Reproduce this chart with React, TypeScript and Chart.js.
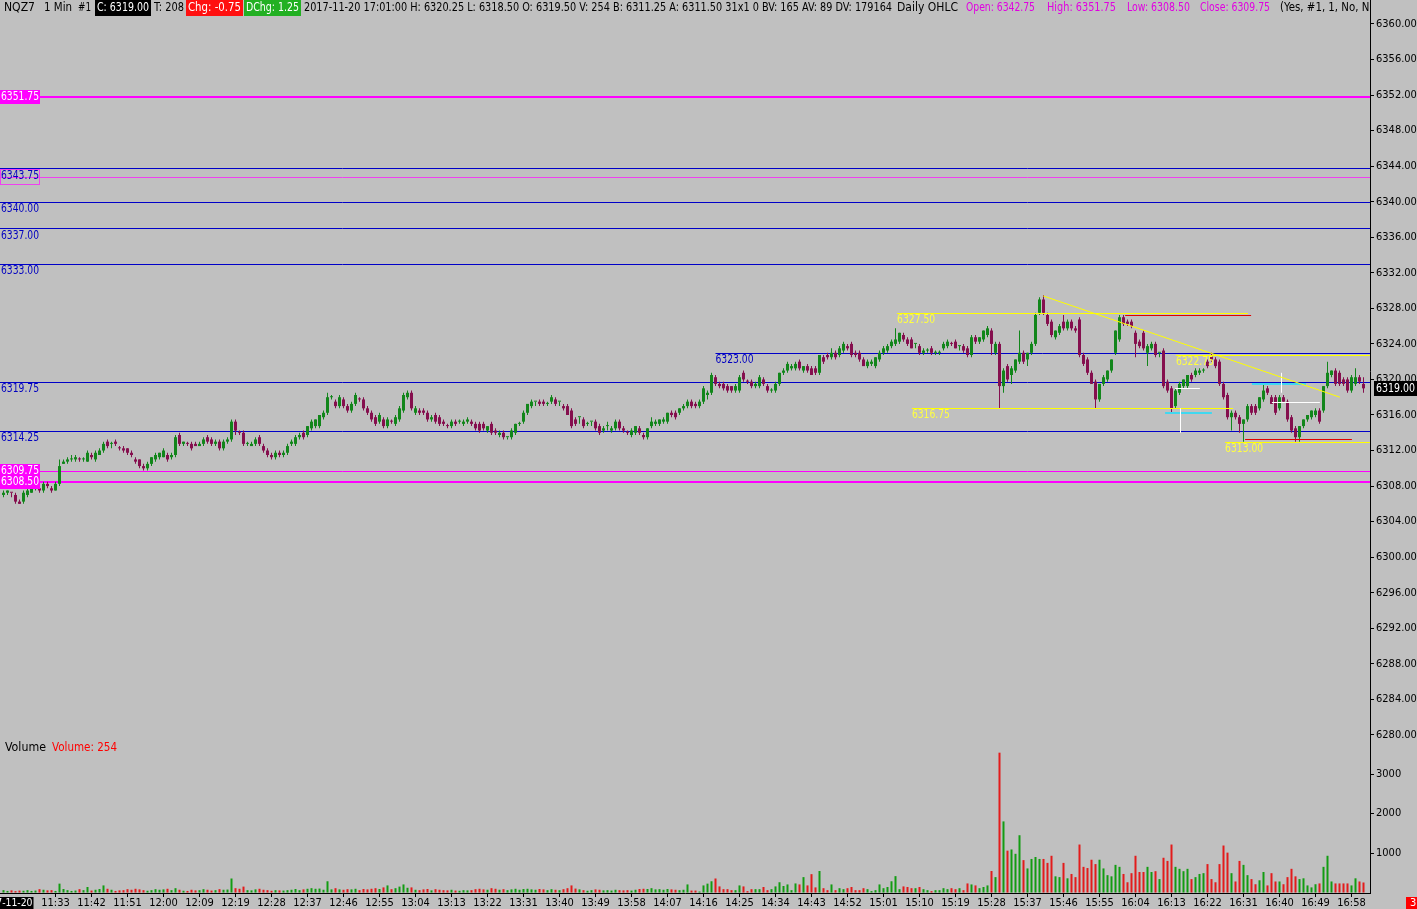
import React, { useEffect, useRef } from 'react';
import { Chart, registerables } from 'chart.js';

Chart.register(...registerables);

const FONT = '"Liberation Sans Narrow", "DejaVu Sans Condensed", "Liberation Sans", Arial, sans-serif';
const BG = '#c0c0c0';
const CANDLE_UP = '#12861b';
const CANDLE_DOWN = '#850f4e';
const VOL_UP = '#129c12';
const VOL_DOWN = '#e31b1b';
const BLUE = '#0000c8';
const MAGENTA = '#ff00ff';
const YELLOW = '#ffff00';

// ---------------- DATA (NQZ7, 1 minute bars) ----------------
const opens = [
  6307.0, 6307.25, 6307.25, 6307.0, 6306.25, 6306.25, 6307.0, 6307.25, 6308.0, 6307.75,
  6307.5, 6308.25, 6307.75, 6307.5, 6308.25, 6310.5, 6310.75, 6311.0, 6311.0, 6311.0,
  6311.0, 6310.75, 6311.5, 6311.0, 6311.5, 6312.0, 6313.0, 6312.75, 6313.0, 6312.25,
  6312.25, 6312.25, 6311.75, 6311.0, 6311.0, 6310.25, 6310.0, 6310.5, 6311.0, 6311.25,
  6311.25, 6311.5, 6311.25, 6311.5, 6313.75, 6312.75, 6312.75, 6312.75, 6312.75, 6312.5,
  6312.75, 6313.5, 6313.25, 6312.75, 6313.0, 6312.25, 6313.0, 6313.25, 6315.25, 6314.0,
  6314.0, 6312.75, 6312.5, 6312.75, 6313.5, 6312.5, 6312.0, 6311.5, 6311.25, 6311.75,
  6311.5, 6311.75, 6312.75, 6312.75, 6313.5, 6314.0, 6313.75, 6314.5, 6314.75, 6314.75,
  6315.75, 6316.25, 6318.0, 6317.5, 6317.0, 6317.75, 6317.0, 6316.5, 6317.25, 6317.75,
  6317.75, 6316.75, 6316.25, 6315.75, 6315.25, 6315.5, 6314.75, 6315.25, 6315.0, 6315.5,
  6316.5, 6318.0, 6318.5, 6316.25, 6316.5, 6316.5, 6316.25, 6315.5, 6316.0, 6315.75,
  6315.25, 6314.75, 6314.75, 6315.25, 6315.25, 6315.0, 6315.25, 6315.25, 6315.0, 6315.0,
  6315.0, 6314.25, 6315.0, 6314.25, 6313.75, 6314.0, 6313.5, 6313.5, 6314.0, 6315.0,
  6315.25, 6316.25, 6317.0, 6317.5, 6317.5, 6317.5, 6317.25, 6317.5, 6317.75, 6317.5,
  6317.0, 6317.0, 6316.5, 6315.5, 6315.75, 6315.5, 6315.0, 6315.25, 6315.25, 6314.75,
  6314.25, 6314.75, 6314.25, 6314.5, 6315.25, 6314.5, 6314.0, 6313.75, 6314.0, 6314.5,
  6313.75, 6313.5, 6314.75, 6315.0, 6315.0, 6315.25, 6315.25, 6316.25, 6316.25, 6316.25,
  6316.75, 6317.0, 6317.5, 6317.25, 6317.0, 6317.5, 6318.25, 6318.5, 6320.25, 6319.5,
  6319.5, 6319.25, 6319.25, 6318.75, 6318.75, 6320.75, 6319.75, 6319.75, 6319.25, 6319.25,
  6320.0, 6319.25, 6318.75, 6318.75, 6319.5, 6320.75, 6321.0, 6321.25, 6321.25, 6322.0,
  6321.0, 6321.5, 6321.25, 6321.25, 6320.75, 6322.5, 6322.75, 6322.5, 6323.0, 6322.75,
  6323.25, 6323.75, 6324.0, 6323.0, 6323.0, 6322.25, 6321.5, 6321.75, 6321.5, 6322.25,
  6323.0, 6323.25, 6323.75, 6324.0, 6324.25, 6325.0, 6324.5, 6324.5, 6324.0, 6323.75,
  6323.0, 6323.25, 6323.5, 6323.0, 6323.0, 6323.5, 6323.75, 6324.0, 6324.25, 6323.75,
  6323.75, 6323.5, 6322.75, 6324.75, 6324.25, 6324.5, 6325.0, 6325.5, 6323.0, 6324.0,
  6319.25, 6321.5, 6320.5, 6321.0, 6322.0, 6323.0, 6322.25, 6323.0, 6324.0, 6327.5,
  6329.0, 6327.25, 6326.5, 6324.75, 6325.25, 6326.5, 6325.75, 6326.5, 6325.75, 6326.75,
  6322.75, 6322.25, 6320.75, 6319.75, 6317.75, 6319.5, 6320.0, 6321.0, 6323.0, 6324.5,
  6327.0, 6326.5, 6326.5, 6325.25, 6324.25, 6325.25, 6323.0, 6323.5, 6324.0, 6323.0,
  6323.25, 6319.75, 6319.0, 6317.0, 6318.5, 6319.25, 6319.25, 6320.5, 6320.5, 6320.75,
  6321.0, 6322.0, 6322.75, 6322.25, 6322.0, 6319.5, 6318.25, 6315.75, 6316.25, 6315.75,
  6315.0, 6315.5, 6317.0, 6317.0, 6316.75, 6317.75, 6319.0, 6318.0, 6318.0, 6316.75,
  6318.0, 6317.5, 6315.75, 6314.5, 6313.5, 6314.75, 6315.5, 6315.75, 6316.0, 6316.5,
  6316.5, 6319.25, 6320.5, 6321.0, 6320.75, 6320.0, 6320.0, 6318.75, 6319.5, 6320.25,
  6319.5,
];
const highs = [
  6307.5, 6307.5, 6307.25, 6307.25, 6306.5, 6307.5, 6307.75, 6308.0, 6308.0, 6308.0,
  6308.5, 6308.5, 6308.0, 6308.5, 6311.0, 6311.0, 6311.25, 6311.5, 6311.5, 6311.25,
  6311.25, 6312.0, 6311.75, 6312.0, 6312.25, 6313.0, 6313.25, 6313.0, 6313.25, 6312.5,
  6312.5, 6312.25, 6312.0, 6311.25, 6311.0, 6310.5, 6310.75, 6311.25, 6311.75, 6311.75,
  6312.25, 6311.75, 6311.75, 6313.75, 6314.0, 6313.0, 6313.0, 6313.0, 6313.0, 6313.0,
  6313.5, 6313.75, 6313.5, 6313.25, 6313.25, 6313.25, 6313.5, 6315.5, 6315.5, 6314.25,
  6314.25, 6313.0, 6313.0, 6313.5, 6313.75, 6312.75, 6312.25, 6311.75, 6312.0, 6312.0,
  6312.0, 6312.75, 6313.25, 6313.75, 6314.0, 6314.25, 6314.75, 6315.5, 6315.5, 6316.0,
  6316.5, 6318.5, 6318.25, 6317.75, 6318.25, 6318.0, 6317.25, 6317.5, 6318.5, 6318.0,
  6318.0, 6317.0, 6316.5, 6316.0, 6316.25, 6315.75, 6315.75, 6315.5, 6316.0, 6317.0,
  6318.5, 6318.75, 6318.75, 6317.0, 6316.75, 6316.75, 6316.5, 6316.0, 6316.25, 6316.0,
  6315.5, 6315.0, 6315.5, 6315.5, 6315.5, 6315.5, 6315.75, 6315.5, 6315.25, 6315.25,
  6315.25, 6314.75, 6315.25, 6314.5, 6314.25, 6314.25, 6313.5, 6314.5, 6315.0, 6315.25,
  6316.5, 6317.25, 6317.75, 6317.5, 6317.75, 6317.75, 6317.5, 6318.25, 6318.0, 6317.5,
  6317.25, 6317.25, 6316.75, 6315.75, 6315.75, 6315.75, 6315.25, 6315.25, 6315.5, 6315.0,
  6314.75, 6315.25, 6314.75, 6315.5, 6315.5, 6314.75, 6314.25, 6314.5, 6314.75, 6314.75,
  6314.0, 6314.5, 6315.75, 6315.5, 6315.5, 6315.75, 6316.25, 6316.5, 6316.5, 6316.75,
  6317.25, 6317.75, 6317.75, 6317.5, 6317.75, 6319.25, 6318.75, 6320.75, 6320.5, 6319.75,
  6319.75, 6319.5, 6319.25, 6319.5, 6320.5, 6321.0, 6320.0, 6320.0, 6319.75, 6320.5,
  6320.25, 6319.5, 6319.0, 6319.75, 6320.75, 6321.25, 6322.0, 6321.75, 6322.0, 6322.25,
  6321.5, 6321.75, 6321.5, 6321.5, 6322.75, 6322.75, 6323.0, 6323.5, 6323.25, 6323.75,
  6324.25, 6324.0, 6324.25, 6323.25, 6323.25, 6322.5, 6322.25, 6322.25, 6322.5, 6323.25,
  6323.75, 6324.0, 6324.5, 6325.75, 6325.25, 6325.25, 6324.75, 6324.75, 6324.0, 6324.0,
  6323.5, 6323.5, 6323.75, 6323.25, 6323.25, 6324.25, 6324.5, 6324.25, 6324.5, 6323.75,
  6324.0, 6323.75, 6325.0, 6325.0, 6324.75, 6325.5, 6326.0, 6325.75, 6324.25, 6324.25,
  6321.25, 6321.75, 6321.5, 6322.25, 6325.5, 6323.25, 6323.0, 6324.25, 6327.5, 6329.25,
  6329.5, 6327.5, 6326.75, 6325.5, 6326.25, 6327.25, 6326.75, 6326.75, 6326.0, 6327.0,
  6323.0, 6322.5, 6321.0, 6320.0, 6319.5, 6320.5, 6321.0, 6322.25, 6325.5, 6327.25,
  6327.25, 6326.75, 6326.75, 6325.5, 6324.5, 6325.5, 6324.0, 6324.25, 6324.25, 6323.0,
  6323.5, 6320.0, 6319.25, 6319.0, 6319.75, 6320.0, 6320.5, 6320.75, 6321.25, 6321.25,
  6321.25, 6322.25, 6323.0, 6322.5, 6322.25, 6319.75, 6318.5, 6316.5, 6316.5, 6316.0,
  6315.5, 6317.25, 6317.25, 6317.25, 6318.0, 6319.5, 6319.25, 6318.25, 6318.25, 6318.25,
  6318.25, 6317.75, 6316.0, 6314.75, 6314.75, 6315.5, 6316.0, 6316.5, 6316.75, 6316.75,
  6319.25, 6322.0, 6321.0, 6321.25, 6321.0, 6320.25, 6320.25, 6320.5, 6321.25, 6320.5,
  6320.25,
];
const lows = [
  6306.75, 6307.0, 6306.75, 6306.0, 6306.0, 6306.0, 6306.75, 6307.25, 6307.5, 6307.25,
  6307.25, 6307.75, 6307.25, 6307.5, 6308.0, 6310.5, 6310.5, 6310.75, 6310.75, 6310.75,
  6310.75, 6310.75, 6311.0, 6310.75, 6311.5, 6311.75, 6312.25, 6312.25, 6312.5, 6312.0,
  6311.75, 6311.5, 6311.25, 6310.5, 6310.0, 6309.75, 6309.75, 6310.25, 6310.75, 6311.0,
  6311.25, 6310.75, 6311.0, 6311.25, 6312.5, 6312.5, 6312.5, 6312.0, 6312.5, 6312.5,
  6312.5, 6312.75, 6312.5, 6312.5, 6312.0, 6312.0, 6312.75, 6313.0, 6313.75, 6313.75,
  6312.5, 6312.5, 6312.5, 6312.5, 6312.5, 6311.75, 6311.25, 6311.0, 6311.0, 6311.25,
  6311.25, 6311.5, 6312.5, 6312.5, 6313.25, 6313.25, 6313.5, 6314.25, 6314.5, 6314.5,
  6315.5, 6316.0, 6317.75, 6316.75, 6316.75, 6316.75, 6316.25, 6316.25, 6317.0, 6317.5,
  6316.5, 6316.0, 6315.25, 6314.75, 6315.0, 6314.5, 6314.5, 6315.0, 6314.75, 6315.25,
  6316.25, 6317.75, 6316.5, 6316.0, 6316.0, 6316.0, 6315.25, 6315.25, 6315.0, 6314.75,
  6314.75, 6314.5, 6314.5, 6314.75, 6315.0, 6314.75, 6315.0, 6314.75, 6314.25, 6314.0,
  6314.25, 6314.0, 6313.75, 6313.75, 6313.5, 6313.25, 6313.25, 6313.25, 6313.75, 6314.75,
  6315.0, 6316.0, 6316.75, 6317.0, 6317.0, 6317.0, 6317.0, 6317.25, 6317.0, 6317.0,
  6316.5, 6316.0, 6314.5, 6314.75, 6315.0, 6314.5, 6314.75, 6314.75, 6314.25, 6313.75,
  6314.0, 6314.25, 6314.0, 6314.25, 6314.25, 6314.0, 6313.75, 6313.5, 6313.75, 6313.75,
  6313.25, 6313.25, 6314.5, 6314.75, 6314.75, 6315.0, 6315.0, 6315.75, 6315.5, 6316.0,
  6316.5, 6316.75, 6316.75, 6316.75, 6316.75, 6317.25, 6317.75, 6318.25, 6319.25, 6319.0,
  6318.75, 6318.5, 6318.5, 6318.5, 6318.5, 6319.75, 6319.5, 6319.0, 6319.0, 6319.0,
  6319.25, 6318.5, 6318.5, 6318.5, 6319.25, 6320.5, 6320.75, 6321.0, 6321.0, 6321.0,
  6320.75, 6320.75, 6320.5, 6320.5, 6320.5, 6321.75, 6322.25, 6322.25, 6322.25, 6322.5,
  6323.0, 6323.25, 6322.5, 6322.5, 6322.0, 6321.5, 6321.25, 6321.5, 6321.25, 6322.0,
  6322.75, 6323.0, 6323.5, 6323.75, 6324.0, 6324.25, 6323.75, 6323.5, 6323.5, 6322.75,
  6322.75, 6323.0, 6322.75, 6322.75, 6322.75, 6323.25, 6323.5, 6323.75, 6323.5, 6323.25,
  6323.0, 6322.5, 6322.5, 6324.0, 6324.0, 6324.25, 6324.75, 6322.75, 6322.75, 6316.75,
  6318.5, 6319.75, 6319.5, 6320.75, 6321.75, 6321.75, 6321.5, 6322.75, 6323.75, 6327.25,
  6327.25, 6326.0, 6324.75, 6324.5, 6325.0, 6325.5, 6325.5, 6325.5, 6325.25, 6322.5,
  6321.5, 6320.5, 6319.5, 6316.75, 6317.5, 6319.25, 6319.75, 6320.75, 6322.75, 6324.25,
  6326.0, 6326.0, 6325.75, 6322.5, 6323.5, 6323.25, 6321.5, 6323.25, 6322.5, 6322.5,
  6319.0, 6318.5, 6316.25, 6316.75, 6318.25, 6319.0, 6319.0, 6319.75, 6320.25, 6320.5,
  6320.75, 6321.25, 6322.0, 6321.25, 6319.25, 6317.75, 6315.5, 6314.25, 6315.5, 6314.0,
  6313.0, 6315.25, 6316.0, 6316.0, 6316.5, 6317.5, 6318.25, 6317.25, 6316.0, 6316.5,
  6317.5, 6315.25, 6314.0, 6313.0, 6313.0, 6314.5, 6315.25, 6315.5, 6315.75, 6315.0,
  6316.25, 6319.0, 6320.25, 6319.25, 6319.25, 6319.25, 6318.5, 6318.5, 6319.25, 6319.5,
  6318.5,
];
const closes = [
  6307.25, 6307.5, 6307.25, 6306.25, 6306.0, 6307.25, 6307.5, 6307.75, 6308.0, 6307.5,
  6308.25, 6308.0, 6307.5, 6308.25, 6310.25, 6310.75, 6311.0, 6311.0, 6311.25, 6311.0,
  6311.0, 6311.75, 6311.25, 6311.75, 6312.0, 6312.75, 6312.5, 6312.75, 6312.75, 6312.25,
  6312.0, 6311.75, 6311.5, 6310.75, 6310.25, 6310.0, 6310.5, 6311.25, 6311.5, 6311.75,
  6312.0, 6311.0, 6311.5, 6313.5, 6312.75, 6313.0, 6312.75, 6312.25, 6312.5, 6312.75,
  6313.25, 6313.0, 6312.75, 6313.0, 6312.25, 6313.0, 6313.25, 6315.25, 6314.25, 6314.0,
  6312.75, 6312.75, 6312.75, 6313.25, 6312.75, 6312.0, 6311.5, 6311.25, 6311.75, 6311.5,
  6311.75, 6312.5, 6313.0, 6313.5, 6313.75, 6313.5, 6314.75, 6315.25, 6315.5, 6316.0,
  6316.25, 6318.0, 6318.0, 6317.0, 6318.0, 6317.0, 6316.5, 6317.25, 6318.25, 6317.75,
  6316.75, 6316.25, 6315.5, 6315.0, 6316.0, 6314.75, 6315.5, 6315.25, 6315.75, 6316.75,
  6318.25, 6318.5, 6316.75, 6316.75, 6316.25, 6316.25, 6315.5, 6315.75, 6315.25, 6315.0,
  6315.0, 6314.75, 6315.25, 6315.0, 6315.25, 6315.25, 6315.5, 6315.0, 6314.5, 6314.25,
  6314.5, 6314.75, 6314.0, 6314.0, 6314.0, 6313.5, 6313.5, 6314.25, 6315.0, 6315.0,
  6316.25, 6317.25, 6317.5, 6317.5, 6317.25, 6317.25, 6317.25, 6318.0, 6317.25, 6317.5,
  6316.75, 6316.0, 6314.75, 6315.0, 6315.75, 6314.75, 6315.0, 6315.25, 6314.5, 6314.0,
  6314.5, 6314.75, 6314.5, 6315.25, 6314.5, 6314.25, 6314.0, 6314.25, 6314.75, 6314.0,
  6313.5, 6314.5, 6315.25, 6315.25, 6315.5, 6315.5, 6316.25, 6316.0, 6315.75, 6316.75,
  6317.0, 6317.5, 6317.0, 6317.0, 6317.5, 6319.0, 6318.5, 6320.5, 6319.5, 6319.25,
  6319.0, 6318.75, 6318.75, 6319.25, 6320.25, 6320.0, 6319.75, 6319.25, 6319.5, 6320.25,
  6319.5, 6318.75, 6318.75, 6319.5, 6320.75, 6321.0, 6321.75, 6321.5, 6321.75, 6321.25,
  6321.5, 6321.0, 6320.5, 6320.75, 6322.75, 6322.0, 6322.5, 6323.0, 6322.5, 6323.5,
  6324.0, 6323.5, 6322.75, 6322.75, 6322.25, 6321.5, 6322.0, 6322.0, 6322.5, 6323.0,
  6323.5, 6323.75, 6324.25, 6324.5, 6325.25, 6324.5, 6324.0, 6323.5, 6324.0, 6323.0,
  6323.25, 6323.25, 6323.0, 6323.0, 6323.0, 6324.0, 6324.25, 6324.0, 6323.5, 6323.75,
  6323.25, 6322.75, 6324.75, 6324.25, 6324.75, 6325.5, 6325.75, 6324.0, 6324.0, 6319.25,
  6321.0, 6320.0, 6321.25, 6322.25, 6323.0, 6322.0, 6323.0, 6324.0, 6327.25, 6329.0,
  6327.5, 6326.25, 6325.0, 6325.5, 6326.0, 6325.75, 6326.5, 6325.75, 6325.5, 6322.75,
  6321.75, 6320.75, 6319.5, 6317.75, 6319.5, 6320.25, 6321.0, 6322.25, 6325.5, 6327.0,
  6326.25, 6326.25, 6326.0, 6324.0, 6323.75, 6323.5, 6323.75, 6324.0, 6322.75, 6323.0,
  6319.25, 6318.75, 6316.75, 6318.75, 6319.5, 6320.0, 6320.5, 6320.0, 6321.0, 6321.0,
  6321.0, 6321.5, 6322.25, 6321.5, 6319.5, 6318.0, 6315.75, 6316.25, 6315.75, 6315.0,
  6315.5, 6317.0, 6316.25, 6316.25, 6318.0, 6318.75, 6318.5, 6317.25, 6316.25, 6318.0,
  6317.5, 6315.5, 6314.25, 6313.5, 6314.75, 6315.5, 6316.0, 6316.5, 6316.5, 6315.25,
  6319.25, 6320.75, 6321.0, 6319.5, 6319.5, 6319.5, 6318.75, 6320.25, 6320.25, 6319.75,
  6319.0,
];
const volumes = [
  60, 40, 55, 35, 50, 45, 60, 40, 50, 85,
  70, 55, 60, 40, 225, 90, 60, 40, 50, 85,
  60, 140, 50, 70, 90, 180, 95, 70, 40, 55,
  60, 85, 70, 95, 80, 60, 45, 60, 85, 70,
  80, 95, 60, 110, 70, 45, 40, 70, 55, 60,
  85, 70, 50, 60, 85, 70, 75, 355, 110, 95,
  150, 60, 55, 80, 95, 70, 60, 45, 60, 55,
  50, 60, 70, 90, 60, 80, 95, 110, 95, 100,
  70, 285, 80, 110, 80, 70, 85, 80, 95, 60,
  90, 80, 95, 110, 90, 130, 180, 85, 110, 150,
  205, 120, 130, 70, 60, 80, 90, 55, 85, 70,
  60, 55, 70, 50, 45, 60, 55, 60, 85, 95,
  80, 70, 110, 95, 70, 85, 60, 80, 95, 70,
  90, 95, 80, 70, 90, 80, 60, 85, 70, 60,
  85, 110, 180, 100, 80, 60, 45, 60, 80, 70,
  55, 60, 50, 70, 60, 55, 60, 50, 70, 90,
  95, 90, 110, 80, 85, 70, 90, 80, 70, 60,
  70, 205, 50, 50, 25, 180, 225, 285, 355, 155,
  85, 85, 60, 60, 180, 155, 35, 85, 85, 85,
  140, 60, 85, 155, 260, 165, 205, 60, 230, 205,
  390, 180, 465, 130, 545, 110, 60, 205, 60, 110,
  85, 110, 140, 60, 60, 110, 85, 35, 60, 205,
  110, 140, 285, 415, 85, 155, 140, 110, 110, 140,
  85, 60, 35, 60, 60, 110, 85, 110, 85, 110,
  60, 230, 205, 180, 110, 140, 180, 545, 390, 3540,
  1800, 1060, 1090, 980, 1450, 820, 610, 850, 900, 850,
  850, 750, 930, 410, 390, 750, 360, 470, 390, 1215,
  650, 620, 830, 720, 830, 610, 440, 410, 700, 650,
  470, 260, 490, 930, 520, 520, 650, 520, 540, 340,
  880, 800, 1215, 650, 600, 540, 600, 340, 390, 470,
  490, 720, 340, 260, 720, 1190, 1010, 490, 280, 800,
  700, 440, 340, 210, 310, 520, 180, 490, 280, 280,
  210, 390, 600, 410, 340, 360, 180, 130, 210, 230,
  650, 930, 280, 230, 230, 230, 230, 180, 360, 280,
  254,
];

// axis ticks / labels
const priceTicks = [6280, 6284, 6288, 6292, 6296, 6300, 6304, 6308, 6312, 6316, 6320, 6324, 6328, 6332, 6336, 6340, 6344, 6348, 6352, 6356, 6360];
const volumeTicks = [1000, 2000, 3000];
const timeTickLabels = [
  '11:33', '11:42', '11:51', '12:00', '12:09', '12:19', '12:28', '12:37', '12:46', '12:55',
  '13:04', '13:13', '13:22', '13:31', '13:40', '13:49', '13:58', '14:07', '14:16', '14:25',
  '14:34', '14:43', '14:52', '15:01', '15:10', '15:19', '15:28', '15:37', '15:46', '15:55',
  '16:04', '16:13', '16:22', '16:31', '16:40', '16:49', '16:58',
];
const FIRST_TICK_BAR = 13;
const TICK_EVERY_BARS = 9;
const sessionDate = '2017-11-20';
const lastBarTime = '17:01:00';

// study levels
const levelPrices = [6351.75, 6343.75, 6342.75, 6340.0, 6337.0, 6333.0, 6323.0, 6319.75, 6314.25, 6309.75, 6308.5];
const levelStartBars = [null, null, null, null, null, null, 178, null, null, null, null];
const levelKinds = ['magentaBox', 'blue', 'pinkOutline', 'blue', 'blue', 'blue', 'blue', 'blue', 'blue', 'magentaThin', 'magentaBox'];

// drawing tools
const yellowLevelPrices = [6327.5, 6316.75, 6322.75, 6313.0];
const yellowLevelFrom = [223.4, 227.1, 293.1, 305.4];
const yellowLevelTo = [311.1, 307.4, 341.6, 341.6];
const redLevelPrices = [6327.25, 6313.25];
const redLevelFrom = [280.4, 310.4];
const redLevelTo = [311.9, 337.1];
const trendBars = [259.9, 334.1];
const trendPrices = [6329.4, 6318.0];
const cyanPrices = [6316.25, 6319.5];
const cyanFrom = [290.4, 312.1];
const cyanTo = [302.1, 325.6];
const whiteVBars = [294.1, 319.4];
const whiteVTop = [6316.75, 6320.75];
const whiteVBottom = [6314.0, 6318.5];
const whiteHPrices = [6319.0, 6317.5];
const whiteHFrom = [292.9, 317.1];
const whiteHTo = [299.1, 329.1];

// header values
const tradeCount = 208;
const dailyChange = 1.25;
const bidPrice = 6311.25;
const askPrice = 6311.5;
const bidAskSize = '31x1 0';
const bidVolume = 165;
const askVolume = 89;
const dailyVolume = 179164;
const dailyOHLC = [6342.75, 6351.75, 6308.5, 6309.75];

// ---------------- helpers ----------------
const PRICE_MAX = 6362.7;
const PRICE_MIN = 6279.2;
const N = closes.length;
const barIdx = closes.map((_, i) => i);
const isUp = (i: number) => {
  if (closes[i] > opens[i]) return true;
  if (closes[i] < opens[i]) return false;
  return i === 0 ? true : closes[i] >= closes[i - 1];
};
const f2 = (v: number) => v.toFixed(2);

function fitText(ctx: CanvasRenderingContext2D, text: string, x: number, yMid: number, w: number | null, color: string, size = 12) {
  ctx.save();
  ctx.font = `${size}px ${FONT}`;
  ctx.fillStyle = color;
  ctx.textBaseline = 'middle';
  ctx.textAlign = 'left';
  const m = ctx.measureText(text).width;
  ctx.translate(x, yMid);
  if (w) ctx.scale(w / m, 1);
  ctx.fillText(text, 0, 0);
  ctx.restore();
}

function hline(ctx: CanvasRenderingContext2D, x1: number, x2: number, y: number, color: string, width = 1) {
  ctx.save();
  ctx.strokeStyle = color;
  ctx.lineWidth = width;
  const yy = width % 2 === 1 ? Math.round(y) + 0.5 : Math.round(y);
  ctx.beginPath();
  ctx.moveTo(x1, yy);
  ctx.lineTo(x2, yy);
  ctx.stroke();
  ctx.restore();
}

const noPad = (s: any) => {
  s.paddingTop = 0;
  s.paddingBottom = 0;
  s.paddingLeft = 0;
  s.paddingRight = 0;
};

const overlayPlugin = {
  id: 'sierraOverlay',
  beforeDraw(chart: any) {
    const { ctx, width, height } = chart;
    ctx.save();
    ctx.fillStyle = BG;
    ctx.fillRect(0, 0, width, height);
    ctx.restore();
  },
  beforeDatasetsDraw(chart: any) {
    const { ctx, chartArea } = chart;
    const xs = chart.scales.x;
    const ys = chart.scales.y;
    levelPrices.forEach((p, k) => {
      const y = ys.getPixelForValue(p);
      const start = levelStartBars[k];
      const x1 = start == null ? chartArea.left : xs.getPixelForValue(start);
      const kind = levelKinds[k];
      if (kind === 'blue') hline(ctx, x1, chartArea.right, y, BLUE, 1);
      else if (kind === 'magentaBox') hline(ctx, x1, chartArea.right, y, MAGENTA, 2);
      else if (kind === 'magentaThin') hline(ctx, x1, chartArea.right, y, MAGENTA, 1);
      else if (kind === 'pinkOutline') hline(ctx, x1, chartArea.right, y, '#f040f0', 1);
    });
  },
  afterDatasetsDraw(chart: any) {
    const { ctx, chartArea } = chart;
    const xs = chart.scales.x;
    const ys = chart.scales.y;
    const X = (b: number) => Math.min(xs.getPixelForValue(b), chartArea.right);
    const Y = (p: number) => ys.getPixelForValue(p);

    yellowLevelPrices.forEach((p, k) => hline(ctx, X(yellowLevelFrom[k]), X(yellowLevelTo[k]), Y(p), YELLOW, 1));
    redLevelPrices.forEach((p, k) => hline(ctx, X(redLevelFrom[k]), X(redLevelTo[k]), Y(p), '#e00000', 1));
    cyanPrices.forEach((p, k) => hline(ctx, X(cyanFrom[k]), X(cyanTo[k]), Y(p), '#40d8f0', 2));
    whiteHPrices.forEach((p, k) => hline(ctx, X(whiteHFrom[k]), X(whiteHTo[k]), Y(p), '#ffffff', 1));
    ctx.save();
    ctx.strokeStyle = '#ffffff';
    ctx.lineWidth = 1;
    whiteVBars.forEach((b, k) => {
      const x = Math.round(X(b)) + 0.5;
      ctx.beginPath();
      ctx.moveTo(x, Y(whiteVTop[k]));
      ctx.lineTo(x, Y(whiteVBottom[k]));
      ctx.stroke();
    });
    ctx.strokeStyle = YELLOW;
    ctx.beginPath();
    ctx.moveTo(X(trendBars[0]), Y(trendPrices[0]));
    ctx.lineTo(X(trendBars[1]), Y(trendPrices[1]));
    ctx.stroke();
    ctx.restore();

    yellowLevelPrices.forEach((p, k) => fitText(ctx, f2(p), X(yellowLevelFrom[k]), Y(p) + 7, 38, '#ffff40'));

    levelPrices.forEach((p, k) => {
      const y = ys.getPixelForValue(p);
      const start = levelStartBars[k];
      const x1 = start == null ? 1 : xs.getPixelForValue(start);
      const kind = levelKinds[k];
      if (kind === 'blue') fitText(ctx, f2(p), x1, y + 7, 38, '#0000c0');
      else if (kind === 'pinkOutline') {
        ctx.save();
        ctx.strokeStyle = '#f040f0';
        ctx.lineWidth = 1;
        ctx.strokeRect(0.5, Math.round(y) - 7.5, 39, 15);
        ctx.restore();
      }
    });
    levelPrices.forEach((p, k) => {
      const kind = levelKinds[k];
      if (kind === 'magentaBox' || kind === 'magentaThin') {
        const y = ys.getPixelForValue(p);
        ctx.save();
        ctx.fillStyle = MAGENTA;
        ctx.fillRect(0, Math.round(y) - 7, 40, 14);
        ctx.restore();
        fitText(ctx, f2(p), 1, Math.round(y), 38, '#ffffff');
      }
    });
  },
  afterDraw(chart: any) {
    const { ctx, chartArea } = chart;
    const xs = chart.scales.x;
    const ys = chart.scales.y;
    const yv = chart.scales.yVol;
    const last = N - 1;

    ctx.save();
    ctx.beginPath();
    ctx.rect(0, 0, chartArea.right, 18);
    ctx.clip();
    const hy = 8;
    const box = (x: number, w: number, c: string) => { ctx.fillStyle = c; ctx.fillRect(x, 0, w, 16); };
    fitText(ctx, 'NQZ7', 4, hy, 31, '#000');
    fitText(ctx, '1 Min', 44, hy, 28, '#000');
    fitText(ctx, '#1', 78, hy, 13, '#000');
    box(95, 56, '#000');
    fitText(ctx, `C: ${f2(closes[last])}`, 97, hy, 52, '#fff');
    fitText(ctx, `T: ${tradeCount}`, 154, hy, 30, '#000');
    box(186, 57, '#ff1010');
    fitText(ctx, `Chg: ${f2(closes[last] - closes[last - 1])}`, 188, hy, 53, '#fff');
    box(244, 57, '#22b022');
    fitText(ctx, `DChg: ${f2(dailyChange)}`, 246, hy, 53, '#fff');
    const mid = `${sessionDate} ${lastBarTime} H: ${f2(highs[last])} L: ${f2(lows[last])} O: ${f2(opens[last])} V: ${volumes[last]} B: ${f2(bidPrice)} A: ${f2(askPrice)} ${bidAskSize} BV: ${bidVolume} AV: ${askVolume} DV: ${dailyVolume}`;
    fitText(ctx, mid, 304, hy, 588, '#000');
    fitText(ctx, 'Daily OHLC', 897, hy, 61, '#000');
    fitText(ctx, `Open: ${f2(dailyOHLC[0])}`, 966, hy, 69, '#e000e0');
    fitText(ctx, `High: ${f2(dailyOHLC[1])}`, 1047, hy, 69, '#e000e0');
    fitText(ctx, `Low: ${f2(dailyOHLC[2])}`, 1127, hy, 63, '#e000e0');
    fitText(ctx, `Close: ${f2(dailyOHLC[3])}`, 1200, hy, 70, '#e000e0');
    fitText(ctx, '(Yes, #1, 1, No, No, No)', 1280, hy, 120, '#000');
    ctx.restore();

    const vt = yv.top + 6;
    fitText(ctx, 'Volume', 5, vt, 41, '#000');
    fitText(ctx, `Volume: ${volumes[last]}`, 52, vt, 65, '#ff0000');

    const x0 = xs.getPixelForValue(0);
    ctx.save();
    ctx.fillStyle = '#000';
    ctx.fillRect(0, chartArea.bottom + 4, x0 + 30, 909 - chartArea.bottom - 4);
    ctx.restore();
    fitText(ctx, sessionDate, x0 + 29 - 54, chartArea.bottom + 10, 54, '#fff', 11);

    // clipped red marker at bottom-right corner of the time axis
    ctx.save();
    ctx.beginPath();
    ctx.rect(0, 0, 1417, 909);
    ctx.clip();
    ctx.fillStyle = '#ff0000';
    ctx.fillRect(chartArea.right + 36, chartArea.bottom + 4, 30, 909 - chartArea.bottom - 4);
    ctx.restore();
    fitText(ctx, String(volumes[last]).charAt(0) === '2' ? '3' : '3', chartArea.right + 40, chartArea.bottom + 10, null, '#fff', 11);

    const py = Math.round(ys.getPixelForValue(closes[last]));
    ctx.save();
    ctx.fillStyle = '#000';
    ctx.fillRect(chartArea.right + 4, py - 7, 47, 15);
    ctx.restore();
    fitText(ctx, f2(closes[last]), chartArea.right + 6, py + 0.5, 39, '#fff', 12);
  },
};

export default function App() {
  const ref = useRef<HTMLCanvasElement | null>(null);
  useEffect(() => {
    document.body.style.margin = '0';
    document.body.style.overflow = 'hidden';
    const canvas = ref.current;
    if (!canvas) return;
    Chart.defaults.font.family = FONT;
    const candleColors = barIdx.map((i) => (isUp(i) ? CANDLE_UP : CANDLE_DOWN));
    const volColors = barIdx.map((i) => (isUp(i) ? VOL_UP : VOL_DOWN));
    const tickFont = { family: FONT, size: 11 };
    const chart = new Chart(canvas, {
      type: 'bar',
      data: {
        datasets: [
          {
            label: 'Body',
            data: barIdx.map((i) => ({ x: i, y: [opens[i], closes[i]] })) as any,
            xAxisID: 'x',
            yAxisID: 'y',
            barThickness: 3,
            minBarLength: 1,
            grouped: false,
            inflateAmount: 0,
            borderWidth: 0,
            backgroundColor: candleColors,
          },
          {
            label: 'Wick',
            data: barIdx.map((i) => ({ x: i, y: [lows[i], highs[i]] })) as any,
            xAxisID: 'x',
            yAxisID: 'y',
            barThickness: 1,
            minBarLength: 1,
            grouped: false,
            inflateAmount: 0,
            borderWidth: 0,
            backgroundColor: candleColors,
          },
          {
            label: 'Volume',
            data: barIdx.map((i) => ({ x: i, y: volumes[i] })) as any,
            xAxisID: 'x',
            yAxisID: 'yVol',
            barThickness: 2,
            grouped: false,
            inflateAmount: 0,
            borderWidth: 0,
            backgroundColor: volColors,
          },
        ],
      },
      options: {
        responsive: false,
        maintainAspectRatio: false,
        animation: false,
        layout: { padding: 0 },
        plugins: { legend: { display: false }, tooltip: { enabled: false }, title: { display: false } },
        scales: {
          x: {
            type: 'linear',
            position: 'bottom',
            min: -0.875,
            max: N + 0.625,
            offset: false,
            afterBuildTicks: (s: any) => {
              s.ticks = timeTickLabels.map((_, k) => ({ value: FIRST_TICK_BAR + k * TICK_EVERY_BARS }));
            },
            afterFit: (s: any) => { s.height = 16; noPad(s); },
            ticks: {
              autoSkip: false,
              maxRotation: 0,
              minRotation: 0,
              padding: 0,
              color: '#000',
              font: tickFont,
              callback: (_v: any, k: number) => timeTickLabels[k],
            },
            grid: { drawOnChartArea: false, drawTicks: true, tickLength: 4, color: '#000', offset: false },
            border: { display: true, color: '#000' },
          },
          y: {
            type: 'linear',
            position: 'right',
            stack: 'right',
            stackWeight: 742,
            min: PRICE_MIN,
            max: PRICE_MAX,
            afterBuildTicks: (s: any) => { s.ticks = priceTicks.map((v) => ({ value: v })); },
            afterFit: (s: any) => { s.width = 47; noPad(s); },
            ticks: { autoSkip: false, padding: 2, color: '#000', font: tickFont, callback: (v: any) => Number(v).toFixed(2) },
            grid: { drawOnChartArea: false, drawTicks: true, tickLength: 4, color: '#000' },
            border: { display: true, color: '#000' },
          },
          yVol: {
            type: 'linear',
            position: 'right',
            stack: 'right',
            stackWeight: 151,
            min: -12,
            max: 3810,
            afterBuildTicks: (s: any) => { s.ticks = volumeTicks.map((v) => ({ value: v })); },
            afterFit: (s: any) => { s.width = 47; noPad(s); },
            ticks: { autoSkip: false, padding: 2, color: '#000', font: tickFont, callback: (v: any) => String(v) },
            grid: { drawOnChartArea: false, drawTicks: true, tickLength: 4, color: '#000' },
            border: { display: true, color: '#000' },
          },
        },
      } as any,
      plugins: [overlayPlugin as any],
    });
    return () => chart.destroy();
  }, []);
  return (
    <div style={{ width: 1417, height: 909, overflow: 'hidden' }}>
      <canvas ref={ref} width={1417} height={909} style={{ display: 'block', width: 1417, height: 909 }} />
    </div>
  );
}
